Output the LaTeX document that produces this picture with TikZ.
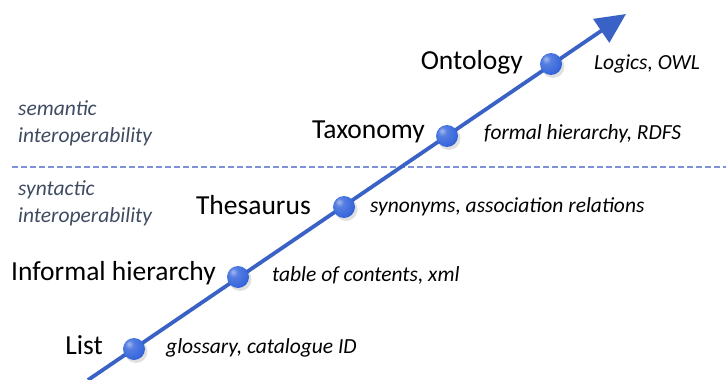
\documentclass[tikz,border=0pt]{standalone}
\usepackage{fontspec}
\setmainfont{Carlito}
\usetikzlibrary{arrows.meta,shadings}
\definecolor{axisblue}{HTML}{3A62C6}
\definecolor{ballblue}{HTML}{3868DC}
\definecolor{dashblue}{HTML}{7F92D8}
\definecolor{slate}{HTML}{3E4B60}
\pgfdeclareradialshading{myball}{\pgfpoint{-12bp}{12bp}}{%
  color(0bp)=(ballblue!45!white);
  color(10bp)=(ballblue!85!white);
  color(28bp)=(ballblue);
  color(45bp)=(ballblue!70!black);
  color(70bp)=(ballblue!55!black)}
\tikzset{
  ball/.style={circle,minimum size=22pt,inner sep=0pt,shading=myball},
  ballshadow/.style={circle,minimum size=23pt,inner sep=0pt,fill=black,opacity=0.12},
  level/.style={font=\fontsize{27.5}{30}\selectfont,anchor=east,inner sep=0pt},
  example/.style={font=\fontsize{21.5}{24}\selectfont\itshape,anchor=west,inner sep=0pt},
  interop/.style={font=\fontsize{21.5}{27}\selectfont\itshape,text=slate,anchor=north west,align=left,inner sep=0pt},
}
\begin{document}
\begin{tikzpicture}[x=1pt,y=-1pt]
\useasboundingbox (0,0) rectangle (726,380);
\draw[dashblue,line width=1.6pt,dash pattern=on 6pt off 3pt] (12,167) -- (726,167);
\node[interop] (sem) at (18,100) {semantic\\interoperability};
\node[interop] (syn) at (18,180) {syntactic\\interoperability};
\coordinate (start) at (88,380);
\coordinate (tip) at (626,14);
\draw[axisblue,line width=3.8pt,-{Triangle[length=30pt,width=28pt]}] (start) -- (tip);
\foreach \n/\x/\y in {1/134/349,2/238/277,3/344/207,4/447/136,5/551/64}{
  \node[ballshadow] (s\n) at (\x+2,\y+2.5) {};
}
\node[ball] (b1) at (134,349) {};
\node[ball] (b2) at (238,277) {};
\node[ball] (b3) at (344,207) {};
\node[ball] (b4) at (447,136) {};
\node[ball] (b5) at (551,64) {};
\node[level] (l1) at (103,345) {List};
\node[level] (l2) at (216,273) {Informal hierarchy};
\node[level] (l3) at (311,205) {Thesaurus};
\node[level] (l4) at (425,132) {Taxonomy};
\node[level] (l5) at (523,62) {Ontology};
\node[example] (e1) at (166,348) {glossary, catalogue ID};
\node[example] (e2) at (272,275) {table of contents, xml};
\node[example] (e3) at (370,207) {synonyms, association relations};
\node[example] (e4) at (484,134) {formal hierarchy, RDFS};
\node[example] (e5) at (594,64) {Logics, OWL};
\end{tikzpicture}
\end{document}
